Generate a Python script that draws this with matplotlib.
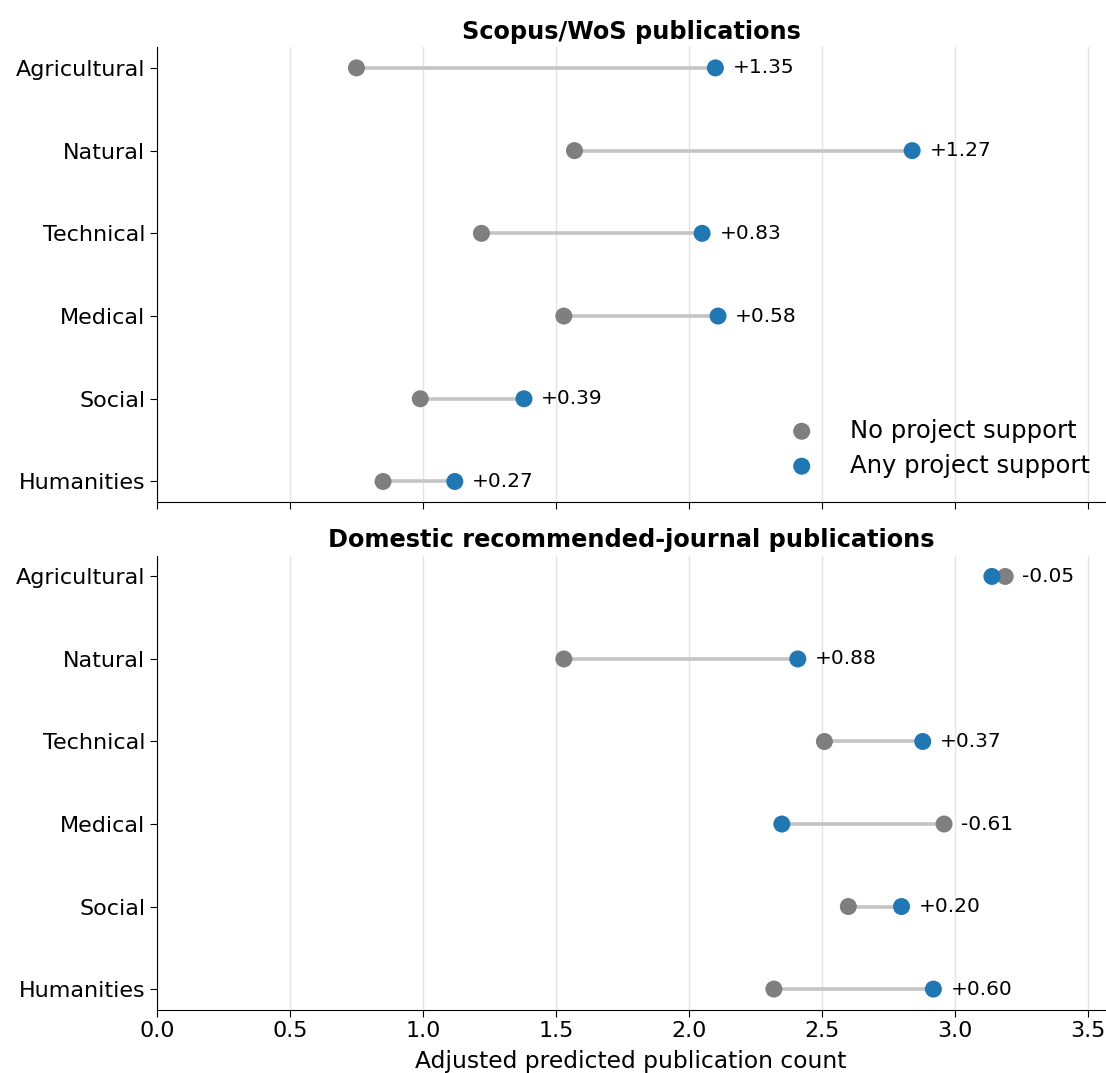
import matplotlib
matplotlib.use("Agg")
import matplotlib.pyplot as plt

# -----------------------------------------------------------------------
# Data: adjusted predicted publication counts by field
# -----------------------------------------------------------------------
fields = ["Agricultural", "Natural", "Technical", "Medical", "Social", "Humanities"]

scopus_none = [0.75, 1.57, 1.22, 1.53, 0.99, 0.85]
scopus_any  = [2.10, 2.84, 2.05, 2.11, 1.38, 1.12]
scopus_diff = ["+1.35", "+1.27", "+0.83", "+0.58", "+0.39", "+0.27"]

domestic_none = [3.19, 1.53, 2.51, 2.96, 2.60, 2.32]
domestic_any  = [3.14, 2.41, 2.88, 2.35, 2.80, 2.92]
domestic_diff = ["-0.05", "+0.88", "+0.37", "-0.61", "+0.20", "+0.60"]

COLOR_NONE = "#7f7f7f"
COLOR_ANY  = "#1f77b4"
COLOR_LINE = "#c4c4c4"


def draw_panel(ax, title, none_vals, any_vals, diffs):
    ypos = list(range(len(fields)))
    for y, a, b in zip(ypos, none_vals, any_vals):
        ax.plot([a, b], [y, y], color=COLOR_LINE, lw=2.6, zorder=1, solid_capstyle="butt")
    ax.scatter(none_vals, ypos, s=150, color=COLOR_NONE, zorder=3,
               edgecolors="none", label="No project support")
    ax.scatter(any_vals, ypos, s=150, color=COLOR_ANY, zorder=3,
               edgecolors="none", label="Any project support")
    for y, a, b, d in zip(ypos, none_vals, any_vals, diffs):
        ax.text(max(a, b) + 0.065, y, d, ha="left", va="center", fontsize=14.5)
    ax.set_yticks(ypos)
    ax.set_yticklabels(fields)
    ax.invert_yaxis()
    ax.set_title(title, fontsize=17.3, fontweight="bold", pad=6)
    ax.grid(axis="x", color="#e3e3e3", lw=1)
    ax.set_axisbelow(True)
    ax.spines["top"].set_visible(False)
    ax.spines["right"].set_visible(False)
    ax.tick_params(labelsize=16, length=5)


fig = plt.figure(figsize=(11.06, 10.73), dpi=100)
ax1 = fig.add_axes([0.142, 0.532, 0.857, 0.424])
ax2 = fig.add_axes([0.142, 0.059, 0.857, 0.423], sharex=ax1)

draw_panel(ax1, "Scopus/WoS publications", scopus_none, scopus_any, scopus_diff)
draw_panel(ax2, "Domestic recommended-journal publications",
           domestic_none, domestic_any, domestic_diff)

ax1.tick_params(labelbottom=False)
ax1.set_xlim(0, 3.565)
ax1.set_xticks([0, 0.5, 1.0, 1.5, 2.0, 2.5, 3.0, 3.5])
ax2.set_xlabel("Adjusted predicted publication count", fontsize=16.8, labelpad=6)

ax1.legend(loc="lower right", bbox_to_anchor=(1.0, 0.022), frameon=False,
           fontsize=17.5, handletextpad=1.0, borderaxespad=0.2, labelspacing=0.45)

fig.savefig("out.png", dpi=100, facecolor="white")
